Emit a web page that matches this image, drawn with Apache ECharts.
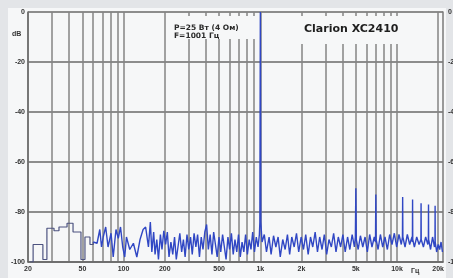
<!DOCTYPE html>
<html>
<head>
<meta charset="utf-8">
<script src="https://cdn.jsdelivr.net/npm/echarts@6/dist/echarts.min.js"></script>
<style>
html, body { margin: 0; padding: 0; background: #e3e5e8; }
#chart { width: 453px; height: 278px; }
</style>
</head>
<body>
<div id="chart"></div>
<script>
// grid frequencies and labels
var gridFreqs = [20, 30, 40, 50, 60, 70, 80, 90, 100, 200, 300, 400, 500, 600, 700, 800, 900,
    1000, 2000, 3000, 4000, 5000, 6000, 7000, 8000, 9000, 10000, 20000];
var labelFreqs = [20, 50, 100, 200, 500, 1000, 2000, 5000, 10000, 20000];

// low frequency part of the trace (coarse, stepped)
var lowFreq = [20.7, 21.8, 25.7, 27.5, 31.0, 33.7, 38.6, 42.7, 48.8, 52.2, 56.8, 60];
var lowLevel = [-100, -93, -99, -86.5, -87.5, -86, -84.5, -88, -99, -90, -93, -92];

// spectrum trace, 60 Hz .. 21.5 kHz
var specFreq = [
    60, 64, 67, 69, 71, 74, 77, 81, 84, 88, 91.5, 95, 98.6, 102, 105, 111, 118, 125, 132, 139, 145, 152, 157,
    161, 166, 170, 175, 180, 186, 191, 197, 203, 209, 215, 222, 229, 236, 243, 250, 258, 266, 274, 282, 291,
    300, 309, 318, 328, 338, 348, 359, 370, 381, 393, 405, 417, 430, 443, 456, 470, 484, 499, 514, 530, 546,
    562, 580, 597, 615, 634, 653, 673, 693, 714, 736, 758, 781, 805, 830, 855, 880, 907, 935, 963, 985,
    993, 1001, 1009,
    1030, 1070, 1110, 1160, 1200, 1250, 1300, 1350, 1400, 1460, 1520, 1580, 1640, 1700, 1770, 1840, 1910, 1990,
    2070, 2150, 2240, 2330, 2420, 2520, 2620, 2720, 2830, 2940, 3060, 3180, 3310, 3440, 3580, 3720, 3870, 4020,
    4180, 4350, 4520, 4700, 4880, 4960, 5000, 5040, 5200, 5400,
    5620, 5840, 6070, 6310, 6560, 6820, 6960, 7000, 7040, 7270, 7560, 7860, 8170, 8500, 8840, 9190, 9560, 9940,
    10340, 10750, 10960, 11000, 11040, 11450, 11900, 12380, 12870, 12960, 13000, 13040, 13400, 13940, 14500,
    14960, 15000, 15040, 15600, 16200, 16800, 16960, 17000, 17040, 17600, 18200, 18800, 18960, 19000, 19040,
    19500, 20000, 20500, 21000, 21500
];
var specLevel = [
    -92, -92.5, -87, -94, -90, -86, -94, -88.5, -98, -87, -90.5, -86, -94, -98, -90, -95, -92.5, -98, -91, -87, -86, -94, -84,
    -96, -88, -97, -91, -99, -89, -95, -87.5, -93, -88, -98, -92, -97, -90, -99, -94, -88.5, -96, -91, -98, -89,
    -95, -90, -97, -88.5, -94, -89, -98, -90, -95, -88, -85, -95, -89, -97, -88, -93, -98, -90, -96, -89, -94,
    -99, -90, -95, -88.5, -97, -91, -96, -89, -98, -92, -96, -89, -97, -91, -95, -88, -96, -90, -94, -89,
    -84, 0, -84,
    -92, -89, -96, -90, -97, -89.5, -94, -90, -98, -91, -95, -89, -97, -90, -94, -88.5, -96, -90,
    -95, -89, -97, -90, -94, -88, -96, -90, -95, -89, -97, -91, -94, -88.5, -96, -90, -94, -89,
    -96, -90, -95, -89, -94, -90, -70.5, -91, -95, -89.5,
    -94, -90, -96, -89, -94, -90, -92, -73, -91, -95, -89, -94, -90, -95, -89, -93, -88.5, -94,
    -89, -93, -90, -74, -90, -94, -89, -93, -90, -92, -75, -91, -94, -90, -93,
    -91, -76.5, -91, -94, -90, -93, -91, -77, -91, -95, -90, -94, -92, -77.5, -92,
    -96, -93, -95, -92, -96
];

function pairs(xs, ys) {
    return xs.map(function (x, i) { return [x, ys[i]]; });
}

function freqLabel(v) {
    return v >= 1000 ? (v / 1000) + 'k' : String(v);
}

var chart = echarts.init(document.getElementById('chart'));

var labelStyle = { fontFamily: 'Liberation Sans', fontSize: 7, fontWeight: 'bold', color: '#333' };

var option = {
    backgroundColor: '#e3e5e8',
    animation: false,
    grid: { left: 28, right: 10, top: 12, bottom: 16, containLabel: false, outerBoundsMode: 'none' },
    xAxis: {
        type: 'log',
        min: 20,
        max: 21700,
        axisLine: { show: true, onZero: false, lineStyle: { color: '#666', width: 1.5 } },
        axisTick: { show: false, customValues: gridFreqs },
        splitLine: { show: true, lineStyle: { color: '#858585', width: 1.5 } },
        axisLabel: Object.assign({
            customValues: labelFreqs,
            margin: 4,
            formatter: freqLabel
        }, labelStyle)
    },
    yAxis: [{
        type: 'value',
        min: -100,
        max: 0,
        interval: 20,
        axisLine: { show: true, lineStyle: { color: '#6a6a6a', width: 1.5 } },
        axisTick: { show: false },
        splitLine: { show: true, lineStyle: { color: '#6a6a6a', width: 1.5 } },
        axisLabel: Object.assign({ margin: 3 }, labelStyle)
    }, {
        type: 'value',
        position: 'right',
        min: -100,
        max: 0,
        interval: 20,
        axisLine: { show: true, lineStyle: { color: '#7a7a7a', width: 1.5 } },
        axisTick: { show: false },
        splitLine: { show: false },
        axisLabel: Object.assign({ margin: 5 }, labelStyle)
    }],
    graphic: [
        // light panel behind the plot
        { type: 'rect', z: -10, shape: { x: 8, y: 8, width: 438, height: 270 }, style: { fill: '#f6f7f8' } },
        // boxes behind the captions
        { type: 'rect', z: 1, shape: { x: 166, y: 16, width: 92, height: 23 }, style: { fill: '#f6f7f8' } },
        { type: 'rect', z: 1, shape: { x: 263, y: 16, width: 173, height: 28 }, style: { fill: '#f6f7f8' } },
        { type: 'text', z: 3, left: 174, top: 24, style: { text: 'P=25 Вт (4 Ом)\nF=1001 Гц', font: 'bold 7.5px "DejaVu Sans"', fill: '#2a2a2a', lineHeight: 8 } },
        { type: 'text', z: 3, left: 304, top: 24, style: { text: 'Clarion XC2410', font: 'bold 11px "DejaVu Sans"', fill: '#1e1e1e' } },
        { type: 'text', z: 3, left: 12, top: 31, style: { text: 'dB', font: 'bold 7px "Liberation Sans"', fill: '#333' } },
        { type: 'text', z: 3, left: 411, top: 268, style: { text: 'Гц', font: 'bold 7px "Liberation Sans"', fill: '#333' } }
    ],
    series: [{
        name: 'low',
        type: 'line',
        step: 'end',
        showSymbol: false,
        symbol: 'none',
        z: 3,
        lineStyle: { color: '#4d5380', width: 1.2 },
        data: pairs(lowFreq, lowLevel)
    }, {
        name: 'spectrum',
        type: 'line',
        showSymbol: false,
        symbol: 'none',
        z: 3,
        lineStyle: { color: '#3047c4', width: 1.4 },
        data: pairs(specFreq, specLevel)
    }]
};

chart.setOption(option);
</script>
</body>
</html>
